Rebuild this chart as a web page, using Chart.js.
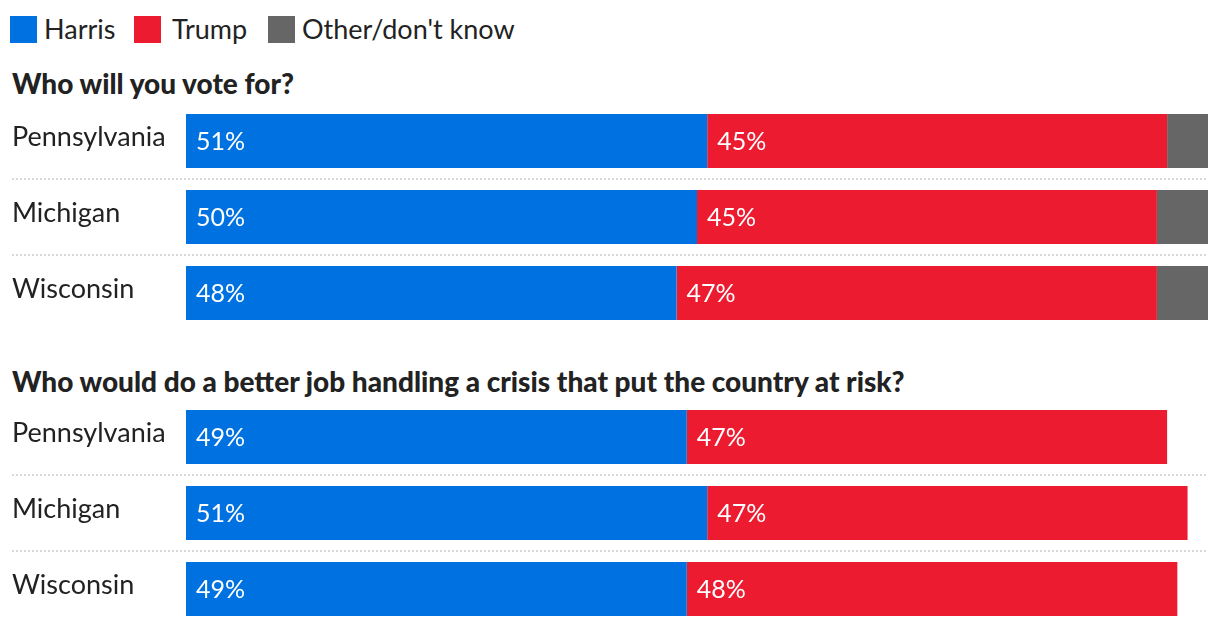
<!DOCTYPE html>
<html>
<head>
<meta charset="utf-8">
<script src="https://cdn.jsdelivr.net/npm/chart.js@4"></script>
<style>
    html, body { margin: 0; padding: 0; background: #fff; overflow: hidden; }
    body { width: 1220px; height: 626px; position: relative; font-family: Lato, sans-serif; color: #222; }
    .swatch { position: absolute; top: 16px; width: 27px; height: 27px; }
    .legend-text { position: absolute; top: 12px; font-size: 27px; line-height: 34px; white-space: nowrap; }
    .heading { position: absolute; left: 12px; font-size: 28px; font-weight: 900; line-height: 30px; white-space: nowrap; }
    .chart-box { position: absolute; left: 0; width: 1220px; height: 228px; }
</style>
</head>
<body>
<span class="swatch" style="left:10px;background:#0071e1"></span><span class="legend-text" style="left:44px">Harris</span>
<span class="swatch" style="left:134px;background:#ec1b30"></span><span class="legend-text" style="left:172px">Trump</span>
<span class="swatch" style="left:268px;background:#666666"></span><span class="legend-text" style="left:302px">Other/don't know</span>
<div class="heading" style="top:68px">Who will you vote for?</div>
<div class="chart-box" style="top:103px"><canvas id="chart1" width="1220" height="228"></canvas></div>
<div class="heading" style="top:366px">Who would do a better job handling a crisis that put the country at risk?</div>
<div class="chart-box" style="top:399px"><canvas id="chart2" width="1220" height="228"></canvas></div>
<script>
const states = ['Pennsylvania', 'Michigan', 'Wisconsin'];

const voteHarris = [51, 50, 48];
const voteTrump = [45, 45, 47];
const voteOther = [4, 5, 5];

const crisisHarris = [49, 51, 49];
const crisisTrump = [47, 47, 48];

const colors = { harris: '#0071e1', trump: '#ec1b30', other: '#666666' };

// dotted separators between rows
const separatorPlugin = {
    id: 'separators',
    beforeDatasetsDraw(chart) {
        const { ctx, chartArea, scales } = chart;
        const y = scales.y;
        ctx.save();
        ctx.strokeStyle = '#d9d9d9';
        ctx.lineWidth = 2;
        ctx.setLineDash([2, 2]);
        for (let i = 0; i < chart.data.labels.length - 1; i++) {
            const py = Math.round((y.getPixelForValue(i) + y.getPixelForValue(i + 1)) / 2);
            ctx.beginPath();
            ctx.moveTo(12, py);
            ctx.lineTo(chartArea.right, py);
            ctx.stroke();
        }
        ctx.restore();
    },
};

// percentage labels inside Harris and Trump bars
const valueLabelPlugin = {
    id: 'valueLabels',
    afterDatasetsDraw(chart) {
        const { ctx } = chart;
        ctx.save();
        ctx.font = '25px Lato, sans-serif';
        ctx.fillStyle = '#ffffff';
        ctx.textAlign = 'left';
        ctx.textBaseline = 'middle';
        chart.data.datasets.forEach((ds, di) => {
            if (!ds.showValue) return;
            chart.getDatasetMeta(di).data.forEach((bar, i) => {
                ctx.fillText(ds.data[i] + '%', bar.base + 10, bar.y + 1);
            });
        });
        ctx.restore();
    },
};

const buildOptions = () => ({
    indexAxis: 'y',
    responsive: false,
    animation: false,
    layout: { padding: { left: 12, right: 12, top: 0, bottom: 0 } },
    plugins: { legend: { display: false }, tooltip: { enabled: false } },
    scales: {
        x: { stacked: true, min: 0, max: 100, display: false },
        y: {
            stacked: true,
            grid: { display: false },
            border: { display: false },
            afterFit: (scale) => {
                scale.width = 174;
                scale.paddingTop = 0;
                scale.paddingBottom = 0;
            },
            ticks: {
                crossAlign: 'far',
                padding: 0,
                labelOffset: -4,
                color: '#222',
                // tiny line height keeps the axis from padding the chart area
                font: { family: 'Lato, sans-serif', size: 27, lineHeight: 0.1 },
            },
        },
    },
});

const barDefaults = { barPercentage: 1, categoryPercentage: 54 / 76, borderWidth: 0 };

const initChart = (id, datasets) => {
    const element = document.getElementById(id);
    if (!element || typeof Chart === 'undefined') {
        return;
    }
    new Chart(element, {
        type: 'bar',
        data: { labels: states, datasets },
        options: buildOptions(),
        plugins: [separatorPlugin, valueLabelPlugin],
    });
};

initChart('chart1', [
    { ...barDefaults, label: 'Harris', data: voteHarris, backgroundColor: colors.harris, showValue: true },
    { ...barDefaults, label: 'Trump', data: voteTrump, backgroundColor: colors.trump, showValue: true },
    { ...barDefaults, label: "Other/don't know", data: voteOther, backgroundColor: colors.other },
]);

initChart('chart2', [
    { ...barDefaults, label: 'Harris', data: crisisHarris, backgroundColor: colors.harris, showValue: true },
    { ...barDefaults, label: 'Trump', data: crisisTrump, backgroundColor: colors.trump, showValue: true },
]);
</script>
</body>
</html>
